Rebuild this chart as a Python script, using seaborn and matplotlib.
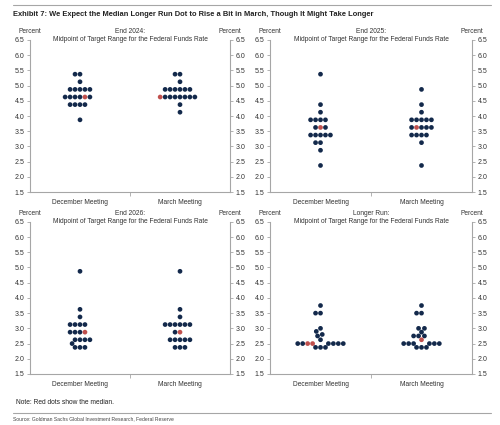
import matplotlib
matplotlib.use("Agg")
import matplotlib.pyplot as plt
from matplotlib.lines import Line2D
import pandas as pd
import seaborn as sns

sns.set_style("white")
plt.rcParams["font.family"] = ["Liberation Sans", "DejaVu Sans"]

NAVY = "#13294b"
RED = "#c0504d"
GREY = "#a6a6a6"
TEXT = "#333333"

meetings = ["December Meeting", "March Meeting"]
panel_titles = ["End 2024:", "End 2025:", "End 2026:", "Longer Run:"]
y_ticks = [1.5, 2.0, 2.5, 3.0, 3.5, 4.0, 4.5, 5.0, 5.5, 6.0, 6.5]

# FOMC dots: rate level and number of participants at that level
dec_2024_rates = [5.375, 5.125, 4.875, 4.625, 4.375, 3.875]
dec_2024_counts = [2, 1, 5, 6, 4, 1]
mar_2024_rates = [5.375, 5.125, 4.875, 4.625, 4.375, 4.125]
mar_2024_counts = [2, 1, 6, 8, 1, 1]

dec_2025_rates = [5.375, 4.375, 4.125, 3.875, 3.625, 3.375, 3.125, 2.875, 2.375]
dec_2025_counts = [1, 1, 1, 4, 3, 5, 2, 1, 1]
mar_2025_rates = [4.875, 4.375, 4.125, 3.875, 3.625, 3.375, 3.125, 2.375]
mar_2025_counts = [1, 1, 1, 5, 5, 4, 1, 1]

dec_2026_rates = [4.875, 3.625, 3.375, 3.125, 2.875, 2.625, 2.5, 2.375]
dec_2026_counts = [1, 1, 1, 4, 4, 4, 1, 3]
mar_2026_rates = [4.875, 3.625, 3.375, 3.125, 2.875, 2.625, 2.375]
mar_2026_counts = [1, 1, 1, 6, 2, 5, 3]

dec_lr_rates = [3.75, 3.5, 3.0, 2.9, 2.8, 2.75, 2.625, 2.5, 2.375]
dec_lr_counts = [1, 2, 1, 1, 1, 1, 1, 8, 3]
mar_lr_rates = [3.75, 3.5, 3.0, 2.875, 2.75, 2.625, 2.5, 2.375]
mar_lr_counts = [1, 2, 2, 1, 3, 1, 6, 3]

# median dots (shown in red)
dec_medians = [4.625, 3.625, 2.875, 2.5]
mar_medians = [4.625, 3.625, 2.875, 2.625]
dec_red_dots = [1, 1, 1, 2]
mar_red_dots = [1, 1, 1, 1]


def build_frame(dec_rates, dec_counts, mar_rates, mar_counts, dec_med, mar_med, dec_red, mar_red):
    rows = []
    groups = [
        (meetings[0], dec_rates, dec_counts, dec_med, dec_red),
        (meetings[1], mar_rates, mar_counts, mar_med, mar_red),
    ]
    for meeting, rates, counts, med, n_red in groups:
        for rate, n in zip(rates, counts):
            for i in range(n):
                kind = "median" if (rate == med and i >= n - n_red) else "other"
                rows.append({"meeting": meeting, "rate": rate, "kind": kind})
    return pd.DataFrame(rows)


frames = [
    build_frame(dec_2024_rates, dec_2024_counts, mar_2024_rates, mar_2024_counts,
                dec_medians[0], mar_medians[0], dec_red_dots[0], mar_red_dots[0]),
    build_frame(dec_2025_rates, dec_2025_counts, mar_2025_rates, mar_2025_counts,
                dec_medians[1], mar_medians[1], dec_red_dots[1], mar_red_dots[1]),
    build_frame(dec_2026_rates, dec_2026_counts, mar_2026_rates, mar_2026_counts,
                dec_medians[2], mar_medians[2], dec_red_dots[2], mar_red_dots[2]),
    build_frame(dec_lr_rates, dec_lr_counts, mar_lr_rates, mar_lr_counts,
                dec_medians[3], mar_medians[3], dec_red_dots[3], mar_red_dots[3]),
]

fig = plt.figure(figsize=(5, 4.25), dpi=100)
positions = [
    [0.060, 0.548, 0.400, 0.358],
    [0.540, 0.548, 0.404, 0.358],
    [0.060, 0.120, 0.400, 0.358],
    [0.540, 0.120, 0.404, 0.358],
]

for pos, df, title in zip(positions, frames, panel_titles):
    ax = fig.add_axes(pos)
    sns.swarmplot(data=df, x="meeting", y="rate", hue="kind", order=meetings,
                  hue_order=["other", "median"], palette={"other": NAVY, "median": RED},
                  size=3.4, linewidth=0, legend=False, ax=ax)
    ax.set_xlim(-0.5, 1.5)
    ax.set_ylim(1.5, 6.5)
    ax.set_yticks(y_ticks)
    ax.yaxis.set_major_formatter("{x:.1f}")
    ax.set_xlabel("")
    ax.set_ylabel("")
    ax.tick_params(axis="y", left=True, right=True, labelleft=True, labelright=True,
                   length=2.5, width=0.6, color=GREY, labelsize=5, pad=1.5, labelcolor=TEXT)
    ax.tick_params(axis="x", which="major", length=0, labelsize=4.8, pad=5, labelcolor=TEXT)
    ax.set_xticks([0.5], minor=True)
    ax.tick_params(axis="x", which="minor", bottom=True, length=3, width=0.6, color=GREY)
    ax.spines["top"].set_visible(False)
    for side in ["left", "right", "bottom"]:
        ax.spines[side].set_color(GREY)
        ax.spines[side].set_linewidth(0.8)

    ax.annotate("Midpoint of Target Range for the Federal Funds Rate", xy=(0.5, 1.0),
                xycoords="axes fraction", ha="center", va="center", fontsize=4.8, color=TEXT)
    ax.annotate(title, xy=(0.5, 1.0), xycoords="axes fraction", xytext=(0, 6),
                textcoords="offset points", ha="center", va="center", fontsize=4.8, color=TEXT)
    for x in [0, 1]:
        ax.annotate("Percent", xy=(x, 1.0), xycoords="axes fraction", xytext=(0, 6),
                    textcoords="offset points", ha="center", va="center", fontsize=4.8, color=TEXT)

# header, footer and rules
fig.add_artist(Line2D([0.026, 0.982], [1 - 5 / 425] * 2, color=GREY, lw=0.8))
fig.text(0.026, 1 - 15 / 425,
         "Exhibit 7: We Expect the Median Longer Run Dot to Rise a Bit in March, Though It Might Take Longer",
         fontsize=5.4, fontweight="bold", va="center", color="#222222")
fig.text(0.032, 1 - 403 / 425, "Note: Red dots show the median.", fontsize=4.8, va="center", color="#222222")
fig.add_artist(Line2D([0.026, 0.982], [1 - 413 / 425] * 2, color=GREY, lw=0.8))
fig.text(0.026, 1 - 419 / 425, "Source: Goldman Sachs Global Investment Research, Federal Reserve",
         fontsize=3.6, va="center", color="#444444")

fig.savefig("out.png", dpi=100)
